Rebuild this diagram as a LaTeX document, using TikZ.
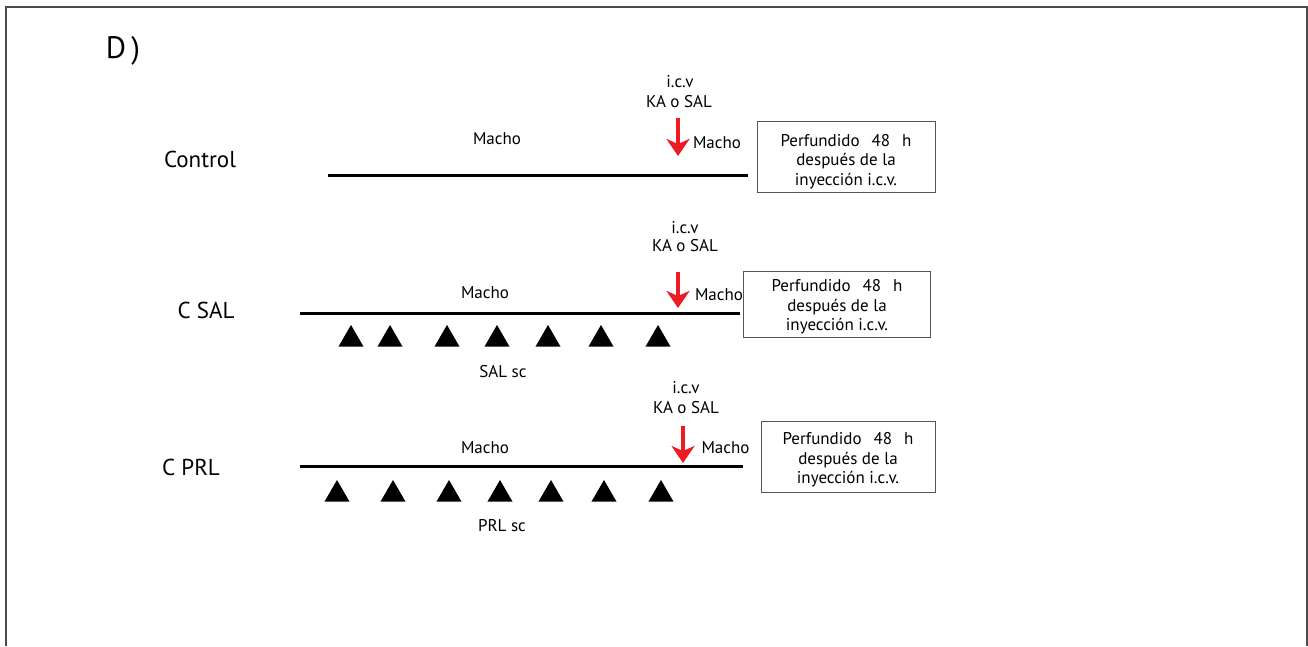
\documentclass[tikz,border=0pt]{standalone}
\usepackage{fontspec}
\setmainfont{PT Sans}
\usetikzlibrary{arrows.meta,shapes.geometric}
\definecolor{arrred}{HTML}{ED1C24}
\definecolor{framegray}{HTML}{4A4A4A}
\definecolor{boxgray}{HTML}{555555}
\tikzset{
  lbl/.style={anchor=base,inner sep=0pt,outer sep=0pt,font=\fontsize{17}{20}\selectfont},
  biglbl/.style={anchor=base,inner sep=0pt,font=\fontsize{23}{27}\selectfont},
  timeline/.style={line width=3pt,black},
  inj/.style={line width=4.5pt,arrred,-{Stealth[length=17pt,width=23pt,inset=5pt]}},
  resbox/.style={draw=boxgray,line width=1pt,inner sep=0pt},
  restext/.style={align=center,inner sep=0pt,font=\fontsize{17}{19.5}\selectfont},
  tri/.style={regular polygon,regular polygon sides=3,fill=black,inner sep=0pt,outer sep=0pt,minimum size=28.9pt},
}
\newcommand{\perftext}{Perfundido\hspace{12pt}48\hspace{12pt}h\\después de la\\inyección i.c.v.}
\begin{document}
\begin{tikzpicture}[x=1pt,y=-1pt]
\useasboundingbox (0,0) rectangle (1308,646);
\fill[white] (0,0) rectangle (1308,646);
% frame
\draw[framegray,line width=2pt] (6,646) -- (6,7) -- (1307,7) -- (1307,646);

\node[lbl,font=\fontsize{31}{35}\selectfont] (D) at (123,58) {D\,)};

% ---------- Control ----------
\node[biglbl] (lc) at (200,167) {Control};
\coordinate (l1a) at (328,175);
\coordinate (l1b) at (748,175);
\draw[timeline] (l1a) -- (l1b);
\node[lbl] (m1) at (497,144) {Macho};
\node[lbl] (icv1) at (680,87) {i.c.v};
\node[lbl] (ka1) at (679,107) {KA o SAL};
\coordinate (a1s) at (678,118);
\coordinate (a1e) at (678,156);
\draw[inj] (a1s) -- (a1e);
\node[lbl] (mr1) at (717,148) {Macho};
\node[resbox,minimum width=178pt,minimum height=71pt] (b1) at (846,156.5) {};
\node[restext] (t1) at (846,161.5) {\perftext};

% ---------- C SAL ----------
\node[biglbl] (lsal) at (206,318) {C SAL};
\coordinate (l2a) at (300,313);
\coordinate (l2b) at (740,313);
\draw[timeline] (l2a) -- (l2b);
\node[lbl] (m2) at (485,298) {Macho};
\node[lbl] (icv2) at (685,233) {i.c.v};
\node[lbl] (ka2) at (685,251) {KA o SAL};
\coordinate (a2s) at (678,272);
\coordinate (a2e) at (678,308);
\draw[inj] (a2s) -- (a2e);
\node[lbl] (mr2) at (719,300) {Macho};
\node[resbox,minimum width=187pt,minimum height=66pt] (b2) at (836.5,304) {};
\node[restext] (t2) at (837,307) {\perftext};
\foreach \x [count=\i] in {351,390,447,497,548,601,658}
  \node[tri] (s\i) at (\x,339.4) {};
\node[lbl] (salsc) at (503,377) {SAL sc};

% ---------- C PRL ----------
\node[biglbl] (lprl) at (191,475) {C PRL};
\coordinate (l3a) at (300,466);
\coordinate (l3b) at (743,466);
\draw[timeline] (l3a) -- (l3b);
\node[lbl] (m3) at (485,453) {Macho};
\node[lbl] (icv3) at (686,393) {i.c.v};
\node[lbl] (ka3) at (686,413) {KA o SAL};
\coordinate (a3s) at (683,426);
\coordinate (a3e) at (683,463);
\draw[inj] (a3s) -- (a3e);
\node[lbl] (mr3) at (725.5,453) {Macho};
\node[resbox,minimum width=174pt,minimum height=71pt] (b3) at (848,456.5) {};
\node[restext] (t3) at (848,460) {\perftext};
\foreach \x [count=\i] in {337,393,449,500,551,604,661}
  \node[tri] (p\i) at (\x,494.4) {};
\node[lbl] (prlsc) at (502,531) {PRL sc};
\end{tikzpicture}
\end{document}
